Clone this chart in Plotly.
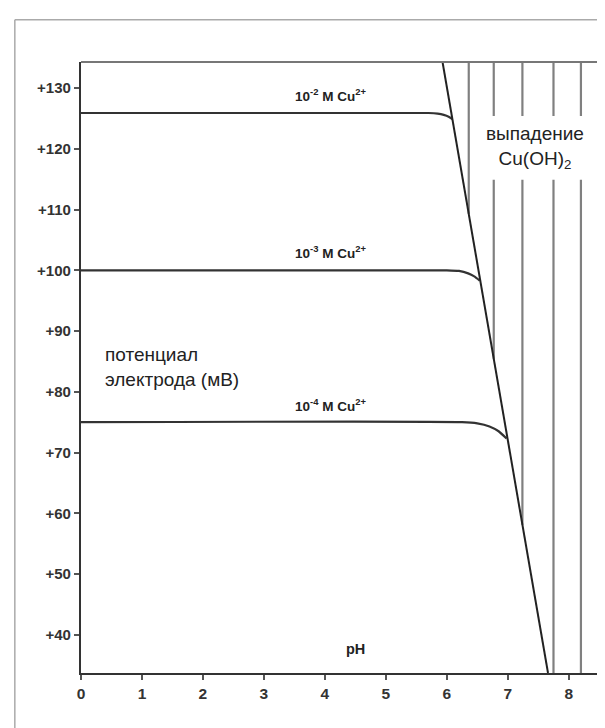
import numpy as np
import plotly.graph_objects as go

# Data
diag_ph = [5.93, 7.66]
diag_mv = [134.3, 33.7]

c2_ph = [0, 5.7, 5.85, 5.95, 6.03, 6.09]
c2_mv = [125.9, 125.9, 125.8, 125.6, 125.3, 124.9]
c3_ph = [0, 6.0, 6.2, 6.35, 6.45, 6.54]
c3_mv = [100.0, 100.0, 99.9, 99.5, 99.0, 98.3]
c4_ph = [0, 6.25, 6.5, 6.7, 6.85, 6.98]
c4_mv = [75.0, 75.0, 74.8, 74.3, 73.5, 72.3]

precip_ph = [6.36, 6.77, 7.24, 7.75, 8.20]

x_ticks = [0, 1, 2, 3, 4, 5, 6, 7, 8]
y_ticks = [40, 50, 60, 70, 80, 90, 100, 110, 120, 130]
y_ticklabels = ["+" + str(v) for v in y_ticks]

X_RANGE = [0, 8.48]
Y_RANGE = [33.7, 134.3]

BOLDF = "Liberation Sans Narrow, Liberation Sans, Arial, sans-serif"
SANS = "Liberation Sans, Arial, sans-serif"

fig = go.Figure()

# precipitation hatching lines
vx, vy = [], []
for p in precip_ph:
    bottom = max(float(np.interp(p, diag_ph, diag_mv)), Y_RANGE[0])
    vx += [p, p, None]
    vy += [bottom, Y_RANGE[1], None]
fig.add_trace(go.Scatter(x=vx, y=vy, mode="lines",
                         line=dict(color="#808080", width=2.2), hoverinfo="skip"))

for xs, ys in [(c2_ph, c2_mv), (c3_ph, c3_mv), (c4_ph, c4_mv)]:
    fig.add_trace(go.Scatter(x=xs, y=ys, mode="lines",
                             line=dict(color="#333333", width=2.2, shape="spline", smoothing=0.6),
                             hoverinfo="skip"))

fig.add_trace(go.Scatter(x=diag_ph, y=diag_mv, mode="lines",
                         line=dict(color="#222222", width=2), hoverinfo="skip"))

shapes = [
    # top border of plot
    dict(type="line", xref="paper", yref="paper", x0=0, x1=1, y0=1, y1=1,
         line=dict(color="#777777", width=2.2), layer="above"),
    # white box behind precipitation label
    dict(type="rect", xref="x", yref="y", x0=6.6, x1=8.48, y0=114.9, y1=125.4,
         fillcolor="white", line=dict(width=0), layer="above"),
    # light band on right
    dict(type="rect", xref="paper", yref="paper", x0=1.0, x1=1.05, y0=0, y1=1,
         fillcolor="#f5f5f5", line=dict(width=0), layer="below"),
    # outer frame (left and top)
    dict(type="line", xref="paper", yref="paper", x0=-0.128, x1=-0.128, y0=-0.2, y1=1.069,
         line=dict(color="#aaaaaa", width=1.5)),
    dict(type="line", xref="paper", yref="paper", x0=-0.128, x1=1.1, y0=1.069, y1=1.069,
         line=dict(color="#aaaaaa", width=1.5)),
]

lab_font = dict(family=BOLDF, size=13.5, color="#222222")
annotations = [
    dict(x=4.1, y=128.8, text="<b>10<sup>-2</sup> M Cu<sup>2+</sup></b>", showarrow=False, font=lab_font),
    dict(x=4.1, y=103.1, text="<b>10<sup>-3</sup> M Cu<sup>2+</sup></b>", showarrow=False, font=lab_font),
    dict(x=4.1, y=77.8, text="<b>10<sup>-4</sup> M Cu<sup>2+</sup></b>", showarrow=False, font=lab_font),
    dict(x=4.5, y=37.6, text="<b>pH</b>", showarrow=False, font=dict(family=BOLDF, size=14.5, color="#222222")),
    dict(x=0.36, y=84.1, xanchor="left", align="left",
         text="потенциал<br>электрода (мВ)", showarrow=False,
         font=dict(family=SANS, size=19, color="#222222")),
    dict(x=7.45, y=120.3, text="выпадение<br>Cu(OH)<sub>2</sub>", showarrow=False,
         font=dict(family=SANS, size=19, color="#222222")),
]

fig.update_layout(
    width=605, height=728,
    margin=dict(l=73, r=15, t=54, b=63),
    paper_bgcolor="white", plot_bgcolor="white",
    showlegend=False,
    shapes=shapes, annotations=annotations,
    xaxis=dict(range=X_RANGE, tickvals=x_ticks, ticktext=["<b>%d</b>" % v for v in x_ticks],
               showgrid=False, zeroline=False, showline=True, linecolor="#333333", linewidth=2.2,
               ticks="outside", ticklen=5, tickcolor="#555555", tickwidth=1.5,
               tickfont=dict(family=BOLDF, size=15.5, color="#333333")),
    yaxis=dict(range=Y_RANGE, tickvals=y_ticks, ticktext=["<b>%s</b>" % t for t in y_ticklabels],
               showgrid=False, zeroline=False, showline=True, linecolor="#333333", linewidth=2.2,
               ticks="outside", ticklen=5, tickcolor="#555555", tickwidth=1.5,
               tickfont=dict(family=BOLDF, size=15, color="#333333")),
)

fig.write_html("out.html")
